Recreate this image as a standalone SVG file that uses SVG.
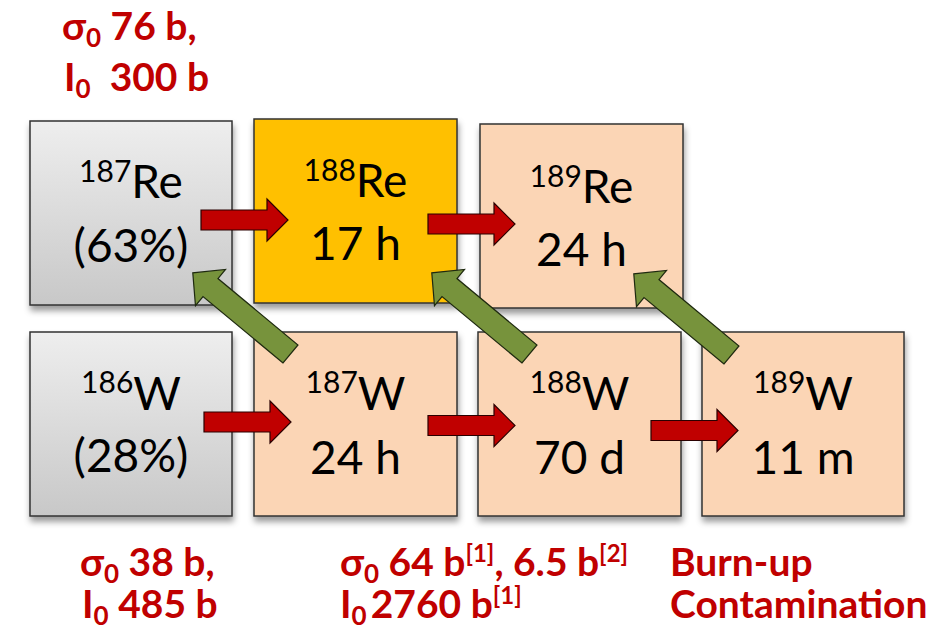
<svg xmlns="http://www.w3.org/2000/svg" xmlns:xlink="http://www.w3.org/1999/xlink" width="930" height="628" viewBox="0 0 930 628">
  <style>
    .box { stroke: #333; stroke-width: 1.5; filter: url(#shadow); }
    .stable { fill: url(#grayGrad); }
    .product { fill: #FFC000; }
    .other { fill: #FBD5B5; }
    .nuc { font-family: Lato, "Liberation Sans", sans-serif; fill: #000; text-anchor: middle; font-size: 46px; }
    .sup { font-size: 30px; }
    .note { font-family: Lato, "Liberation Sans", sans-serif; font-weight: bold; fill: #C00000; font-size: 39px; }
    .sub { font-size: 26px; }
    .ref { font-size: 24px; }
    .capture { fill: #C00000; stroke: #2a0000; stroke-width: 1.2; }
    .decay { fill: #77933C; stroke: #1f2a10; stroke-width: 1.2; }
  </style>
  <defs>
    <linearGradient id="grayGrad" x1="0" y1="0" x2="0" y2="1">
      <stop offset="0" stop-color="#EEEEEE"/>
      <stop offset="1" stop-color="#C8C8C8"/>
    </linearGradient>
    <filter id="shadow" x="-10%" y="-10%" width="125%" height="130%">
      <feDropShadow dx="1" dy="5" stdDeviation="3" flood-color="#000" flood-opacity="0.4"/>
    </filter>
    <!-- neutron capture arrow, tail at origin pointing +x -->
    <path id="redArrow" d="M0,-10 H66 V-21 L87,0 L66,21 V10 H0 Z"/>
    <!-- beta decay arrow, tail at origin pointing +x -->
    <path id="greenArrow" d="M0,-11.7 H104 V-23.5 L127,0 L104,23.5 V11.7 H0 Z"/>
  </defs>

  <rect width="930" height="628" fill="#FFFFFF"/>

  <!-- nuclide boxes -->
  <g id="re187">
    <rect class="box stable" x="30" y="121" width="202" height="184"/>
    <text class="nuc" x="131" y="198"><tspan class="sup" dy="-16">187</tspan><tspan dy="16">Re</tspan></text>
    <text class="nuc" x="131" y="262">(63%)</text>
  </g>
  <g id="re188">
    <rect class="box product" x="254" y="119" width="203" height="184"/>
    <text class="nuc" x="355.5" y="197"><tspan class="sup" dy="-16">188</tspan><tspan dy="16">Re</tspan></text>
    <text class="nuc" x="355.5" y="260">17 h</text>
  </g>
  <g id="re189">
    <rect class="box other" x="480" y="124" width="203" height="184"/>
    <text class="nuc" x="581.5" y="203"><tspan class="sup" dy="-16">189</tspan><tspan dy="16">Re</tspan></text>
    <text class="nuc" x="581.5" y="266">24 h</text>
  </g>
  <g id="w186">
    <rect class="box stable" x="30" y="332" width="202" height="184"/>
    <text class="nuc" x="131" y="410"><tspan class="sup" dy="-17">186</tspan><tspan dy="17">W</tspan></text>
    <text class="nuc" x="131" y="472">(28%)</text>
  </g>
  <g id="w187">
    <rect class="box other" x="254" y="332" width="203" height="184"/>
    <text class="nuc" x="355.5" y="410"><tspan class="sup" dy="-17">187</tspan><tspan dy="17">W</tspan></text>
    <text class="nuc" x="355.5" y="474">24 h</text>
  </g>
  <g id="w188">
    <rect class="box other" x="478" y="332" width="203" height="184"/>
    <text class="nuc" x="579.5" y="410"><tspan class="sup" dy="-17">188</tspan><tspan dy="17">W</tspan></text>
    <text class="nuc" x="579.5" y="474">70 d</text>
  </g>
  <g id="w189">
    <rect class="box other" x="702" y="332" width="202" height="184"/>
    <text class="nuc" x="803" y="410"><tspan class="sup" dy="-17">189</tspan><tspan dy="17">W</tspan></text>
    <text class="nuc" x="803" y="474">11 m</text>
  </g>

  <!-- capture and decay arrows -->
  <g id="connectors">
    <use xlink:href="#redArrow" class="capture" transform="translate(201,220)"/>
    <use xlink:href="#redArrow" class="capture" transform="translate(428,224)"/>
    <use xlink:href="#redArrow" class="capture" transform="translate(204,422)"/>
    <use xlink:href="#redArrow" class="capture" transform="translate(428,425.5)"/>
    <use xlink:href="#redArrow" class="capture" transform="translate(651,430.5)"/>
    <use xlink:href="#greenArrow" class="decay" transform="translate(290.5,354) rotate(219.7)"/>
    <use xlink:href="#greenArrow" class="decay" transform="translate(529.5,354) rotate(219.7)"/>
    <use xlink:href="#greenArrow" class="decay" transform="translate(731.5,355) rotate(219.7)"/>
  </g>

  <!-- cross-section annotations -->
  <g id="xs-re187">
    <text class="note" x="62" y="40">σ<tspan class="sub" dy="7">0</tspan><tspan dy="-7"> 76 b,</tspan></text>
    <text class="note" x="64" y="91" xml:space="preserve">I<tspan class="sub" dy="7">0</tspan><tspan dy="-7">  300 b</tspan></text>
  </g>
  <g id="xs-w186">
    <text class="note" x="80" y="576">σ<tspan class="sub" dy="7">0</tspan><tspan dy="-7"> 38 b,</tspan></text>
    <text class="note" x="82" y="618">I<tspan class="sub" dy="7">0</tspan><tspan dy="-7"> 485 b</tspan></text>
  </g>
  <g id="xs-w187">
    <text class="note" x="340" y="576">σ<tspan class="sub" dy="7">0</tspan><tspan dy="-7"> 64 b</tspan><tspan class="ref" dy="-14">[1]</tspan><tspan dy="14">, 6.5 b</tspan><tspan class="ref" dy="-14">[2]</tspan></text>
    <text class="note" x="340" y="618">I<tspan class="sub" dy="7">0</tspan><tspan dx="4" dy="-7">2760 b</tspan><tspan class="ref" dy="-14">[1]</tspan></text>
  </g>
  <g id="burnup">
    <text class="note" x="670" y="576">Burn-up</text>
    <text class="note" x="670" y="618">Contamination</text>
  </g>
</svg>
